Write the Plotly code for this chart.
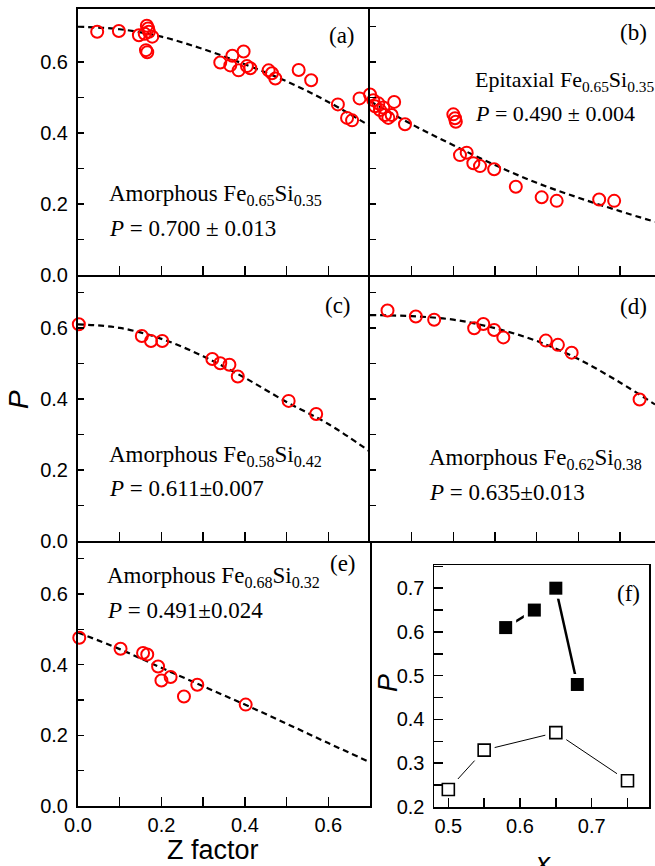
import plotly.graph_objects as go

W, H = 655, 866

# ---------------- data ----------------
Z_a = [0.046, 0.098, 0.146, 0.165, 0.168, 0.170, 0.160, 0.178, 0.163, 0.166, 0.341, 0.370, 0.365,
       0.385, 0.397, 0.405, 0.413, 0.457, 0.465, 0.473, 0.529, 0.559, 0.623, 0.645, 0.657, 0.675]
P_a = [0.686, 0.688, 0.676, 0.703, 0.695, 0.686, 0.680, 0.672, 0.634, 0.628, 0.599, 0.618, 0.591,
       0.577, 0.630, 0.589, 0.583, 0.577, 0.569, 0.554, 0.578, 0.549, 0.481, 0.443, 0.436, 0.498]

Z_b = [0.000, 0.008, 0.012, 0.020, 0.024, 0.032, 0.036, 0.044, 0.052, 0.058, 0.084, 0.200, 0.204,
       0.206, 0.216, 0.232, 0.248, 0.264, 0.298, 0.350, 0.412, 0.448, 0.550, 0.586]
P_b = [0.509, 0.493, 0.476, 0.484, 0.465, 0.472, 0.451, 0.443, 0.451, 0.488, 0.425, 0.453, 0.442,
       0.432, 0.338, 0.345, 0.315, 0.307, 0.298, 0.249, 0.219, 0.209, 0.213, 0.209]

Z_c = [0.002, 0.153, 0.175, 0.202, 0.322, 0.341, 0.363, 0.383, 0.505, 0.571]
P_c = [0.611, 0.578, 0.564, 0.564, 0.513, 0.501, 0.497, 0.464, 0.395, 0.358]

Z_d = [0.042, 0.110, 0.154, 0.250, 0.272, 0.298, 0.320, 0.422, 0.451, 0.484, 0.647]
P_d = [0.650, 0.633, 0.624, 0.600, 0.612, 0.595, 0.574, 0.565, 0.553, 0.531, 0.399]

Z_e = [0.003, 0.102, 0.156, 0.166, 0.192, 0.200, 0.222, 0.254, 0.286, 0.402]
P_e = [0.476, 0.445, 0.433, 0.429, 0.395, 0.355, 0.365, 0.310, 0.343, 0.287]

# fitted curves
fitZ_left = [0.0, 0.1, 0.2, 0.3, 0.4, 0.5, 0.6, 0.7]
fitZ_right = [0.0, 0.1, 0.2, 0.3, 0.4, 0.5, 0.6, 0.684]
fit_a = [0.700, 0.693, 0.672, 0.637, 0.594, 0.546, 0.488, 0.420]
fit_b = [0.490, 0.425, 0.366, 0.310, 0.260, 0.218, 0.180, 0.150]
fit_c = [0.611, 0.601, 0.570, 0.521, 0.460, 0.392, 0.330, 0.252]
fit_d = [0.637, 0.634, 0.624, 0.600, 0.564, 0.513, 0.447, 0.385]
fit_e = [0.491, 0.444, 0.391, 0.339, 0.287, 0.233, 0.178, 0.124]

# panel (f)
x_amorph = [0.58, 0.62, 0.65, 0.68]
P_amorph = [0.61, 0.65, 0.70, 0.48]
x_epi = [0.50, 0.55, 0.65, 0.75]
P_epi = [0.24, 0.33, 0.37, 0.26]

labels = {
    "a": ["Amorphous Fe<sub>0.65</sub>Si<sub>0.35</sub>", "<i>P</i> = 0.700 ± 0.013"],
    "b": ["Epitaxial Fe<sub>0.65</sub>Si<sub>0.35</sub>", "<i>P</i> = 0.490 ± 0.004"],
    "c": ["Amorphous Fe<sub>0.58</sub>Si<sub>0.42</sub>", "<i>P</i> = 0.611±0.007"],
    "d": ["Amorphous Fe<sub>0.62</sub>Si<sub>0.38</sub>", "<i>P</i> = 0.635±0.013"],
    "e": ["Amorphous Fe<sub>0.68</sub>Si<sub>0.32</sub>", "<i>P</i> = 0.491±0.024"],
}

# ---------------- helpers ----------------
def px(x):
    return x / W

def py(y):
    return 1 - y / H

SANS = "Liberation Sans, Arial, sans-serif"
SERIF = "Liberation Serif, Times New Roman, serif"
RED = "#ff0000"

fig = go.Figure()

def add_panel(n, Z, P, fz, fp):
    xa = "x" if n == 1 else f"x{n}"
    ya = "y" if n == 1 else f"y{n}"
    fig.add_trace(go.Scatter(x=fz, y=fp, mode="lines", line=dict(color="black", width=2.2, dash="6px,4px", shape="spline"),
                             xaxis=xa, yaxis=ya, showlegend=False, hoverinfo="skip"))
    fig.add_trace(go.Scatter(x=Z, y=P, mode="markers", cliponaxis=False,
                             marker=dict(symbol="circle-open", size=12, color=RED, line=dict(color=RED, width=2)),
                             xaxis=xa, yaxis=ya, showlegend=False))

add_panel(1, Z_a, P_a, fitZ_left, fit_a)
add_panel(2, Z_b, P_b, fitZ_right, fit_b)
add_panel(3, Z_c, P_c, fitZ_left, fit_c)
add_panel(4, Z_d, P_d, fitZ_right, fit_d)
add_panel(5, Z_e, P_e, fitZ_left, fit_e)

# panel (f)
xf_line = x_amorph[0:2] + [None] + x_amorph[2:4]
pf_line = P_amorph[0:2] + [None] + P_amorph[2:4]
fig.add_trace(go.Scatter(x=x_epi, y=P_epi, mode="lines", line=dict(color="black", width=1),
                         xaxis="x6", yaxis="y6", showlegend=False))
fig.add_trace(go.Scatter(x=xf_line, y=pf_line, mode="lines", line=dict(color="black", width=2.5),
                         xaxis="x6", yaxis="y6", showlegend=False))
# white halos to make Origin-style gaps
fig.add_trace(go.Scatter(x=x_epi + x_amorph, y=P_epi + P_amorph, mode="markers", cliponaxis=False,
                         marker=dict(symbol="square", size=21, color="white"),
                         xaxis="x6", yaxis="y6", showlegend=False, hoverinfo="skip"))
fig.add_trace(go.Scatter(x=x_epi, y=P_epi, mode="markers", cliponaxis=False,
                         marker=dict(symbol="square", size=12, color="white", line=dict(color="black", width=1.6)),
                         xaxis="x6", yaxis="y6", showlegend=False))
fig.add_trace(go.Scatter(x=x_amorph, y=P_amorph, mode="markers", cliponaxis=False,
                         marker=dict(symbol="square", size=13, color="black", line=dict(color="black", width=0)),
                         xaxis="x6", yaxis="y6", showlegend=False))

# ---------------- axes ----------------
def xaxis(dom, anchor, rng, labels_on, mirror=True):
    return dict(domain=[px(dom[0]), px(dom[1])], anchor=anchor, range=rng, automargin=False,
                showline=True, linecolor="black", linewidth=2, mirror=mirror,
                ticks="inside", ticklen=9, tickwidth=1.5, tickcolor="black",
                dtick=0.2, tick0=0, tickformat=".1f",
                minor=dict(dtick=0.1, ticks="inside", ticklen=9, tickwidth=1.5, tickcolor="black", showgrid=False),
                showticklabels=labels_on, tickfont=dict(family=SANS, size=20, color="black"),
                showgrid=False, zeroline=False, fixedrange=True)

def yaxis(dom, anchor, rng, labels_on, mirror=True):
    return dict(domain=[py(dom[1]), py(dom[0])], anchor=anchor, range=rng, automargin=False,
                showline=True, linecolor="black", linewidth=2, mirror=mirror,
                ticks="inside", ticklen=6, tickwidth=1.5, tickcolor="black",
                dtick=0.2, tick0=0, tickformat=".1f",
                minor=dict(dtick=0.1, ticks="inside", ticklen=6, tickwidth=1.5, tickcolor="black", showgrid=False),
                showticklabels=labels_on, tickfont=dict(family=SANS, size=20, color="black"),
                showgrid=False, zeroline=False, fixedrange=True, ticklabelstandoff=4)

LX = (78, 370)
RX = (370, 655)
R1 = (9, 275)
R2 = (275, 541)
R3 = (541, 806)
YR = [0, 0.75]

# mirror lines only where no neighbouring panel already draws that edge
layout = dict(
    width=W, height=H, margin=dict(l=0, r=0, t=0, b=0, autoexpand=False),
    paper_bgcolor="white", plot_bgcolor="white", showlegend=False,
    xaxis=xaxis(LX, "y", [0, 0.7], False, mirror=True),
    yaxis=yaxis(R1, "x", YR, True, mirror=False),
    xaxis2=xaxis(RX, "y2", [0, 0.684], False, mirror=True),
    yaxis2=yaxis(R1, "x2", YR, False, mirror=False),
    xaxis3=xaxis(LX, "y3", [0, 0.7], False, mirror=False),
    yaxis3=yaxis(R2, "x3", YR, True, mirror=False),
    xaxis4=xaxis(RX, "y4", [0, 0.684], False, mirror=False),
    yaxis4=yaxis(R2, "x4", YR, False, mirror=False),
    xaxis5=xaxis(LX, "y5", [0, 0.7], True, mirror=False),
    yaxis5=yaxis(R3, "x5", YR, True, mirror=True),
)
xf = xaxis((434, 649), "y6", [0.48, 0.78], True)
xf.update(dtick=0.1, tick0=0.5, minor=dict(dtick=0.05, ticks="inside", ticklen=9, tickwidth=1.5, tickcolor="black", showgrid=False), linewidth=1.5)
yf = yaxis((565, 807), "x6", [0.2, 0.753], True)
yf.update(dtick=0.1, tick0=0.2, ticklen=9, minor=dict(dtick=0.05, ticks="inside", ticklen=9, tickwidth=1.5, tickcolor="black", showgrid=False), linewidth=1.5)
layout["xaxis6"] = xf
layout["yaxis6"] = yf
fig.update_layout(**layout)

# ---------------- annotations ----------------
ann = []
def text(x, y, s, size=23, family=SERIF, xanchor="left", yanchor="middle", angle=0):
    ann.append(dict(x=px(x), y=py(y), xref="paper", yref="paper", text=s, showarrow=False,
                    xanchor=xanchor, yanchor=yanchor, textangle=angle,
                    font=dict(family=family, size=size, color="black")))

pos = {"a": (107, 191, 228, 23), "b": (473, 77, 113, 22), "c": (107, 452, 488, 23),
       "d": (427, 455, 492, 23), "e": (105, 573, 610, 23)}
for k, (x0, y1, y2, fs) in pos.items():
    text(x0, y1 + 4, labels[k][0], size=fs)
    text(x0, y2, labels[k][1], size=fs)

for s, (x0, y0) in {"(a)": (342, 35), "(b)": (633, 32), "(c)": (338, 305), "(d)": (633, 307),
                    "(e)": (343, 563), "(f)": (628, 593)}.items():
    text(x0, y0, s, xanchor="center")

text(213, 850, "Z factor", size=27, family=SANS, xanchor="center")
text(19, 400, "<i>P</i>", size=28, family=SANS, xanchor="center", angle=-90)
text(388, 683, "<i>P</i>", size=27, family=SANS, xanchor="center", angle=-90)
text(542, 862, "<i>x</i>", size=28, family=SANS, xanchor="center")

fig.update_layout(annotations=ann)
fig.write_html("out.html", config={"displayModeBar": False, "staticPlot": True},
               post_script="document.body.style.margin='0';document.body.style.overflow='hidden';")
